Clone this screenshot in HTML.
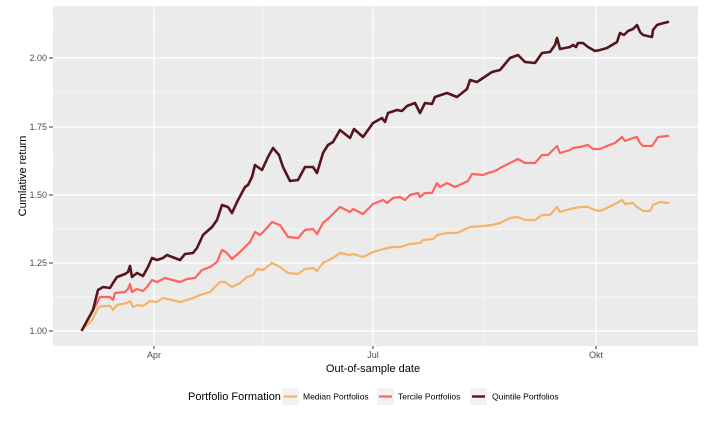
<!DOCTYPE html>
<html><head><meta charset="utf-8"><style>
html,body{margin:0;padding:0;background:#fff;}
svg{display:block;font-family:"Liberation Sans",Arial,sans-serif;}
</style></head><body>
<svg width="720" height="427" viewBox="0 0 720 427" xmlns="http://www.w3.org/2000/svg">
<rect x="53" y="6" width="645" height="340" fill="#ebebeb"/>
<g stroke="#fff" stroke-width="0.6">
<line x1="53" x2="698" y1="297" y2="297"/><line x1="53" x2="698" y1="229" y2="229"/>
<line x1="53" x2="698" y1="160" y2="160"/><line x1="53" x2="698" y1="92" y2="92"/>
<line x1="53" x2="698" y1="24" y2="24"/>
<line x1="263" x2="263" y1="6" y2="346"/><line x1="484" x2="484" y1="6" y2="346"/>
</g>
<g stroke="#fff" stroke-width="1.2">
<line x1="53" x2="698" y1="331" y2="331"/><line x1="53" x2="698" y1="263" y2="263"/>
<line x1="53" x2="698" y1="195" y2="195"/><line x1="53" x2="698" y1="127" y2="127"/>
<line x1="53" x2="698" y1="58" y2="58"/>
<line x1="154" x2="154" y1="6" y2="346"/><line x1="373" x2="373" y1="6" y2="346"/><line x1="596" x2="596" y1="6" y2="346"/>
</g>
<g stroke="#333" stroke-width="1">
<line x1="49" x2="53" y1="331" y2="331"/><line x1="49" x2="53" y1="263" y2="263"/>
<line x1="49" x2="53" y1="195" y2="195"/><line x1="49" x2="53" y1="127" y2="127"/>
<line x1="49" x2="53" y1="58" y2="58"/>
<line x1="154" x2="154" y1="346" y2="349"/><line x1="373" x2="373" y1="346" y2="349"/><line x1="596" x2="596" y1="346" y2="349"/>
</g>
<g fill="#4d4d4d" font-size="9" text-anchor="end">
<text x="47" y="334">1.00</text><text x="47" y="266">1.25</text><text x="47" y="198">1.50</text>
<text x="47" y="130">1.75</text><text x="47" y="61">2.00</text>
</g>
<g fill="#4d4d4d" font-size="9" text-anchor="middle">
<text x="154" y="358">Apr</text><text x="373" y="358">Jul</text><text x="596" y="358">Okt</text>
</g>
<text x="373" y="372" font-size="11" text-anchor="middle" fill="#000">Out-of-sample date</text>
<text transform="translate(26,176) rotate(-90)" font-size="11" text-anchor="middle" fill="#000">Cumlative return</text>
<g fill="none" stroke-linejoin="round" stroke-linecap="round">
<polyline stroke="#f5b26b" stroke-width="2.2" points="82,330 92,320 98,308 102,306 110,306 113,310 117,305 127,303 130,301 133,307 138,305 143,306 150,301 157,302 163,298 180,302 193,298 200,295 210,292 220,282 225,282 232,287 240,283 247,277 253,275 257,269 263,270 272,263 280,267 288,273 298,274 305,269 313,268 317,271 323,263 333,258 340,253 350,255 353,254 363,257 373,252 383,249 393,247 400,247 410,244 420,243 423,240 433,239 437,235 447,233 457,233 470,227 483,226 492,225 500,223 510,218 518,217 525,220 535,220 542,215 550,215 557,207 560,212 570,209 580,207 588,207 595,210 600,211 607,208 617,203 622,200 625,204 633,203 637,207 643,211 650,211 653,205 660,202 668,203"/>
<polyline stroke="#ff6361" stroke-width="2.2" points="82,330 95,307 100,297 103,297 110,297 113,300 115,293 125,292 128,289 130,284 132,292 137,289 143,291 147,287 152,280 157,282 165,278 180,282 187,279 195,278 202,270 210,267 217,262 222,250 226,252 232,259 240,252 247,245 250,242 255,232 260,235 265,230 272,222 280,225 288,237 298,238 305,230 313,229 317,234 323,223 330,217 340,207 350,212 353,209 363,214 373,204 383,200 387,203 393,198 400,197 405,200 410,195 418,193 420,197 425,193 432,193 437,183 440,187 447,183 455,187 468,181 472,174 483,175 488,173 492,172 497,170 500,168 510,163 518,159 525,163 535,163 542,155 548,155 557,146 560,153 570,150 573,148 580,147 588,145 593,149 600,149 607,146 615,143 622,137 625,141 633,138 637,137 640,143 643,146 652,146 658,137 668,136"/>
<polyline stroke="#58141c" stroke-width="2.6" points="82,330 93,310 98,290 103,287 110,288 113,283 117,277 125,274 128,272 130,266 132,277 137,273 143,276 148,267 152,258 157,260 163,258 167,255 180,260 185,254 193,253 197,248 203,235 212,227 217,220 222,205 228,207 232,213 237,202 245,187 248,185 252,177 255,165 262,170 268,157 273,148 279,155 283,167 290,181 298,180 305,167 313,167 317,173 323,153 328,145 333,142 340,130 350,138 354,129 363,137 373,123 382,118 385,122 388,113 397,110 402,111 407,106 415,103 420,113 425,103 432,104 435,97 447,93 457,97 467,89 470,80 477,82 483,78 492,72 500,70 510,58 518,55 525,62 535,63 542,53 550,52 555,45 557,38 560,49 570,47 573,45 576,47 578,43 583,43 588,47 595,51 600,50 607,48 617,42 620,33 624,35 628,31 633,29 637,25 640,32 643,35 652,37 653,30 657,25 660,24 668,22"/>
</g>
<text x="188" y="400" font-size="11" fill="#000">Portfolio Formation</text>
<rect x="282" y="388" width="17" height="17" fill="#f2f2f2"/>
<line x1="284" x2="297" y1="396.5" y2="396.5" stroke="#f5b26b" stroke-width="2.2"/>
<text x="303" y="399.5" font-size="8.5" fill="#000">Median Portfolios</text>
<rect x="377" y="388" width="17" height="17" fill="#f2f2f2"/>
<line x1="379" x2="392" y1="396.5" y2="396.5" stroke="#ff6361" stroke-width="2.2"/>
<text x="398" y="399.5" font-size="8.5" fill="#000">Tercile Portfolios</text>
<rect x="470" y="388" width="17" height="17" fill="#f2f2f2"/>
<line x1="472" x2="485" y1="396.5" y2="396.5" stroke="#58141c" stroke-width="2.4"/>
<text x="492" y="399.5" font-size="8.5" fill="#000">Quintile Portfolios</text>
</svg>
</body></html>
